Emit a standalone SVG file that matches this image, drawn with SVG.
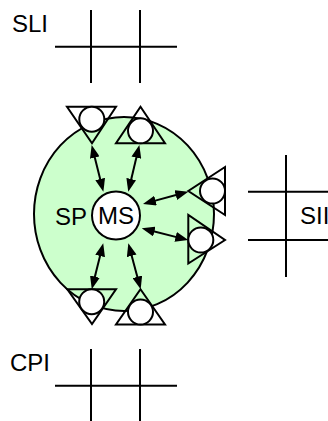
<svg xmlns="http://www.w3.org/2000/svg" width="328" height="421" viewBox="0 0 328 421">
<style>
.ln{stroke:#000;stroke-width:2;fill:none}
.tri{stroke:#000;stroke-width:2;fill:none;stroke-linejoin:miter}
.pc{stroke:#000;stroke-width:2;fill:#fff}
.t{font-family:"Liberation Sans",Arial,sans-serif;font-size:24px;fill:#000}
.ar{stroke:#000;stroke-width:2;fill:none;marker-start:url(#ah);marker-end:url(#ah)}
</style>
<defs>
<marker id="ah" markerUnits="userSpaceOnUse" markerWidth="13" markerHeight="10" refX="5" refY="5" orient="auto-start-reverse" viewBox="0 0 13 10">
<path d="M0,0 L13,5 L0,10 z" fill="#000"/>
</marker>
</defs>
<rect width="328" height="421" fill="#fff"/>
<g id="SLI">
<path class="ln" d="M55,46.7 H177 M91,10 V83 M140,10 V83"/>
<text class="t" x="12" y="32">SLI</text>
</g>
<g id="CPI">
<path class="ln" d="M55,385.7 H177 M91,349 V421 M140,349 V421"/>
<text class="t" x="10" y="371">CPI</text>
</g>
<g id="SII">
<path class="ln" d="M248,191.7 H330 M248,240 H330 M286,155 V277"/>
<text class="t" x="300" y="224">SII</text>
</g>
<g id="SP">
<ellipse cx="124" cy="214" rx="90" ry="97" fill="#ccffcc" stroke="#000" stroke-width="2"/>
<text class="t" x="55" y="225">SP</text>
</g>
<g id="MS">
<circle class="pc" cx="116" cy="215.5" r="24"/>
<text class="t" x="116" y="224" text-anchor="middle">MS</text>
</g>
<g id="port-tl">
<path class="tri" d="M67,106.7 H116 L92,143.3 Z"/>
<circle class="pc" cx="91.8" cy="119.2" r="12.5"/>
</g>
<g id="port-tr">
<path class="tri" d="M140.5,106.7 L165,143.3 H116 Z"/>
<circle class="pc" cx="140.5" cy="130.8" r="12.5"/>
</g>
<g id="port-ru">
<path class="tri" d="M225,167 V215 L188.3,191 Z"/>
<circle class="pc" cx="212.5" cy="191" r="12.5"/>
</g>
<g id="port-rl">
<path class="tri" d="M188.3,215 V263.5 L225,240 Z"/>
<circle class="pc" cx="200.8" cy="240" r="12.5"/>
</g>
<g id="port-bl">
<path class="tri" d="M67.3,289.3 H116 L92,324 Z"/>
<circle class="pc" cx="91.7" cy="301.7" r="12.5"/>
</g>
<g id="port-br">
<path class="tri" d="M140.5,289.3 L165,324.5 H116 Z"/>
<circle class="pc" cx="140.5" cy="312" r="12.5"/>
</g>
<g id="connectors">
<path class="ar" d="M93.6,152.8 L101.4,183.9"/>
<path class="ar" d="M137.5,152.8 L130.1,183.9"/>
<path class="ar" d="M150.7,201.9 L180.6,193.8"/>
<path class="ar" d="M149.5,230.3 L180.5,238.1"/>
<path class="ar" d="M101.3,251.1 L93.7,281.5"/>
<path class="ar" d="M130.4,251 L138.6,281.6"/>
</g>
</svg>
